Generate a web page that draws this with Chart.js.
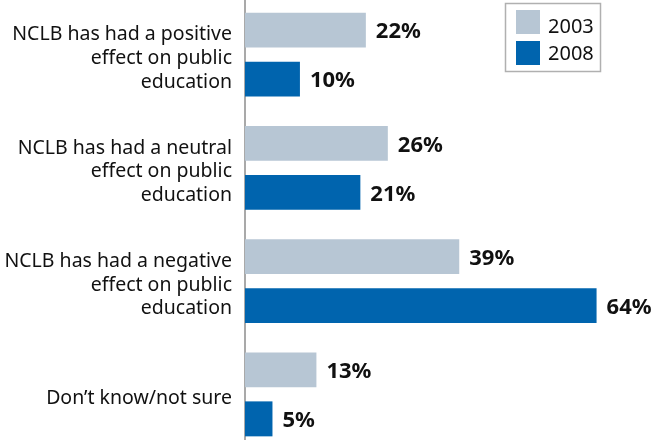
<!DOCTYPE html>
<html>
<head>
<meta charset="utf-8">
<script src="https://cdn.jsdelivr.net/npm/chart.js@4"></script>
<style>
  html, body { margin: 0; padding: 0; background: #fff; overflow: hidden; }
  #wrap { position: absolute; left: 0; top: -2px; width: 657px; height: 453px; }
</style>
</head>
<body>
<div id="wrap"><canvas id="chart1"></canvas></div>
<script>
var categories = [
    ["NCLB has had a positive", "effect on public", "education"],
    ["NCLB has had a neutral", "effect on public", "education"],
    ["NCLB has had a negative", "effect on public", "education"],
    "Don\u2019t know/not sure"
];
var seriesNames = ["2003", "2008"];
var values2003 = [22, 26, 39, 13];
var values2008 = [10, 21, 64, 5];
var colors = ["#b7c6d4", "#0064ae"];
var FONT = "'Noto Sans', sans-serif";

// bold % labels after each bar
var barValueLabels = {
    id: "barValueLabels",
    afterDatasetsDraw: function(chart) {
        var ctx = chart.ctx;
        ctx.save();
        ctx.font = "bold 22px " + FONT;
        ctx.fillStyle = "#111";
        ctx.textAlign = "left";
        ctx.textBaseline = "middle";
        chart.data.datasets.forEach(function(ds, i) {
            chart.getDatasetMeta(i).data.forEach(function(bar, j) {
                ctx.fillText(ds.data[j] + "%", bar.x + 10, bar.y + 2);
            });
        });
        ctx.restore();
    }
};

// boxed legend top right
var boxLegend = {
    id: "boxLegend",
    afterDraw: function(chart) {
        var ctx = chart.ctx;
        var x = 505.5, y = 5.5, w = 95, h = 68;
        var textY = [28.5, 55];
        ctx.save();
        ctx.strokeStyle = "#b0b0b0";
        ctx.lineWidth = 1.5;
        ctx.fillStyle = "#fff";
        ctx.fillRect(x, y, w, h);
        ctx.strokeRect(x, y, w, h);
        ctx.font = "20px " + FONT;
        ctx.textBaseline = "middle";
        chart.data.datasets.forEach(function(ds, i) {
            ctx.fillStyle = ds.backgroundColor;
            ctx.fillRect(516, 12 + i * 31, 24, 24);
            ctx.fillStyle = "#111";
            ctx.fillText(ds.label, 548, textY[i] + 1);
        });
        ctx.restore();
    }
};

var ctx = document.getElementById("chart1");
var chartGraph = new Chart(ctx, {
    type: "bar",
    data: {
        labels: categories,
        datasets: [
            { label: seriesNames[0], data: values2003, backgroundColor: colors[0] },
            { label: seriesNames[1], data: values2008, backgroundColor: colors[1] }
        ]
    },
    options: {
        indexAxis: "y",
        responsive: true,
        maintainAspectRatio: false,
        animation: false,
        layout: { padding: 0 },
        datasets: {
            bar: { categoryPercentage: 0.865, barPercentage: 0.714 }
        },
        scales: {
            x: { display: false, min: 0, max: 75 },
            y: {
                afterFit: function(scale) {
                    scale.width = 245;
                    scale.paddingTop = 0;
                    scale.paddingBottom = 0;
                },
                grid: { display: false, drawTicks: false },
                border: { display: true, color: "#a9a9a9", width: 2 },
                ticks: {
                    padding: 13,
                    labelOffset: 4,
                    color: "#111",
                    font: { family: FONT, size: 19.5, lineHeight: 1.22 }
                }
            }
        },
        plugins: {
            legend: { display: false },
            tooltip: { enabled: false }
        }
    },
    plugins: [barValueLabels, boxLegend]
});
</script>
</body>
</html>
